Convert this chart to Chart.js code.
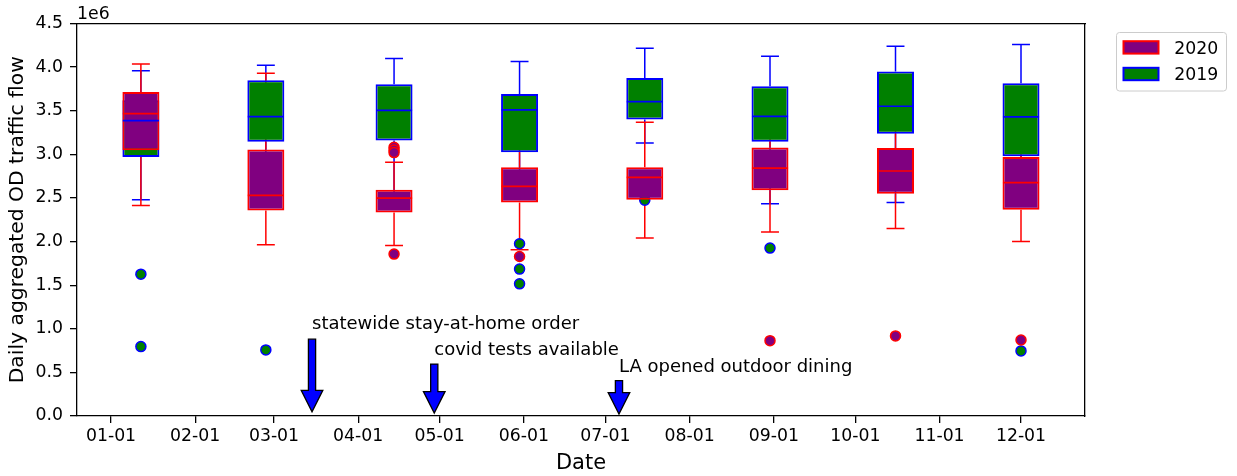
<!DOCTYPE html>
<html>
<head>
<meta charset="utf-8">
<script src="https://cdn.jsdelivr.net/npm/chart.js@4.4.1/dist/chart.umd.min.js"></script>
<style>
html,body{margin:0;padding:0;background:#ffffff;}
canvas{display:block;}
</style>
</head>
<body>
<canvas id="c" width="1237" height="476"></canvas>
<script>
// ---------------- data ----------------
const MONTH_TICK_DAYS   = [0, 31, 60, 91, 121, 152, 182, 213, 244, 274, 305, 335];
const MONTH_TICK_LABELS = ['01-01','02-01','03-01','04-01','05-01','06-01','07-01','08-01','09-01','10-01','11-01','12-01'];
const Y_TICKS = [0, 0.5, 1.0, 1.5, 2.0, 2.5, 3.0, 3.5, 4.0, 4.5];
const Y_OFFSET_TEXT = '1e6';
const SERIES_NAMES = ['2020', '2019'];
const X_TITLE = 'Date';
const Y_TITLE = 'Daily aggregated OD traffic flow';

// box positions (days since 01-01)
const BOX_POSITIONS = [11, 57, 104.2, 150.4, 196.5, 242.6, 288.8, 335];

// 2019 (values in 1e6)
const LO_2019  = [2.480, 2.600, 2.500, 2.550, 3.130, 2.434, 2.449, 2.600];
const Q1_2019  = [2.970, 3.145, 3.160, 3.023, 3.398, 3.145, 3.237, 2.977];
const MED_2019 = [3.387, 3.432, 3.505, 3.509, 3.605, 3.436, 3.551, 3.429];
const Q3_2019  = [3.620, 3.850, 3.804, 3.693, 3.876, 3.780, 3.949, 3.815];
const HI_2019  = [3.957, 4.022, 4.098, 4.064, 4.217, 4.125, 4.240, 4.259];
const FLIERS_2019 = [[1.626, 0.796], [0.758], [], [1.975, 1.684, 1.515], [2.475], [1.925], [], [0.746]];

// 2020 (values in 1e6)
const LO_2020  = [2.414, 1.963, 1.955, 1.906, 2.040, 2.109, 2.150, 2.001];
const Q1_2020  = [3.046, 2.357, 2.334, 2.449, 2.480, 2.587, 2.549, 2.365];
const MED_2020 = [3.467, 2.529, 2.499, 2.633, 2.736, 2.843, 2.809, 2.675];
const Q3_2020  = [3.716, 3.054, 2.594, 2.851, 2.851, 3.077, 3.073, 2.970];
const HI_2020  = [4.037, 3.930, 2.908, 3.250, 3.368, 3.350, 3.450, 3.200];
const FLIERS_2020 = [[], [], [3.080, 3.050, 3.020, 1.856], [1.829], [], [0.864], [0.918], [0.872]];

// events
const EVENT_LABELS = ['statewide stay-at-home order', 'covid tests available', 'LA opened outdoor dining'];
const EVENT_DAYS   = [74, 119, 187];
const EVENT_TEXT_Y = [1.0, 0.7, 0.5];

// ---------------- style ----------------
const FONT = "'DejaVu Sans', 'Liberation Sans', sans-serif";
const C = {purple:'#800080', green:'#008000', red:'#ff0000', blue:'#0000ff'};
const BOX_HALF_DAYS = 6.65;
const CAP_HALF_DAYS = 3.3;

// ---------------- builders ----------------
function boxBars(q1, q3) {
  return BOX_POSITIONS.map((x, i) => ({x: x, y: [q1[i], q3[i]]}));
}
function whiskerPts(lo, q1, q3, hi) {
  const out = [];
  BOX_POSITIONS.forEach((x, i) => {
    out.push({x: x, y: q1[i]}, {x: x, y: lo[i]}, {x: x, y: null});
    out.push({x: x, y: q3[i]}, {x: x, y: hi[i]}, {x: x, y: null});
  });
  return out;
}
function capPts(lo, hi) {
  const out = [];
  BOX_POSITIONS.forEach((x, i) => {
    out.push({x: x - CAP_HALF_DAYS, y: lo[i]}, {x: x + CAP_HALF_DAYS, y: lo[i]}, {x: x, y: null});
    out.push({x: x - CAP_HALF_DAYS, y: hi[i]}, {x: x + CAP_HALF_DAYS, y: hi[i]}, {x: x, y: null});
  });
  return out;
}
function medianPts(med) {
  const out = [];
  BOX_POSITIONS.forEach((x, i) => {
    out.push({x: x - BOX_HALF_DAYS, y: med[i]}, {x: x + BOX_HALF_DAYS, y: med[i]}, {x: x, y: null});
  });
  return out;
}
function flierPts(fl) {
  const out = [];
  BOX_POSITIONS.forEach((x, i) => fl[i].forEach(v => out.push({x: x, y: v})));
  return out;
}
function lineDS(data, color, width, order) {
  return {type: 'scatter', data: data, showLine: true, spanGaps: false, borderColor: color,
          borderWidth: width, pointRadius: 0, pointHoverRadius: 0, fill: false, order: order};
}
function barDS(data, fill, edge, order) {
  return {type: 'bar', data: data, backgroundColor: fill, borderColor: edge, borderWidth: 2,
          borderSkipped: false, barThickness: 37, grouped: false, inflateAmount: 0, order: order};
}
function flierDS(data, fill, edge, order) {
  return {type: 'scatter', data: data, showLine: false, backgroundColor: fill, borderColor: edge,
          borderWidth: 1.5, pointRadius: 5, pointHoverRadius: 5, order: order};
}

const datasets = [
  lineDS(medianPts(MED_2019), C.blue, 1.7, 0),
  lineDS(medianPts(MED_2020), C.red, 1.7, 0),
  flierDS(flierPts(FLIERS_2020), C.purple, C.red, 1),
  barDS(boxBars(Q1_2020, Q3_2020), C.purple, C.red, 2),
  flierDS(flierPts(FLIERS_2019), C.green, C.blue, 3),
  barDS(boxBars(Q1_2019, Q3_2019), C.green, C.blue, 4),
  lineDS(whiskerPts(LO_2020, Q1_2020, Q3_2020, HI_2020), C.red, 1.5, 5),
  lineDS(capPts(LO_2020, HI_2020), C.red, 1.5, 5),
  lineDS(whiskerPts(LO_2019, Q1_2019, Q3_2019, HI_2019), C.blue, 1.5, 6),
  lineDS(capPts(LO_2019, HI_2019), C.blue, 1.5, 6)
];

// ---------------- extras plugin (offset text, annotations, legend) ----------------
const extras = {
  id: 'extras',
  afterDatasetsDraw(chart) {
    const ctx = chart.ctx;
    const xs = chart.scales.x, ys = chart.scales.y;
    const area = chart.chartArea;
    ctx.save();
    // offset text
    ctx.fillStyle = '#000';
    ctx.font = '17.3px ' + FONT;
    ctx.textAlign = 'left';
    ctx.textBaseline = 'alphabetic';
    ctx.fillText(Y_OFFSET_TEXT, area.left, 18.5);

    // annotations
    const fs = 18;
    ctx.font = fs + 'px ' + FONT;
    const y0 = ys.getPixelForValue(0);
    EVENT_LABELS.forEach((lab, i) => {
      const x = xs.getPixelForValue(EVENT_DAYS[i]);
      const by = ys.getPixelForValue(EVENT_TEXT_Y[i]);
      ctx.fillStyle = '#000';
      ctx.fillText(lab, x, by);
      const bboxBottom = by + 0.236 * fs;
      const L = y0 - bboxBottom;
      const top = bboxBottom + 0.05 * L + 2;
      const tip = y0 - 0.05 * L;
      const sw = 3.6, hw = 10.8, hl = 21.5;
      ctx.beginPath();
      ctx.moveTo(x - sw, top);
      ctx.lineTo(x + sw, top);
      ctx.lineTo(x + sw, tip - hl);
      ctx.lineTo(x + hw, tip - hl);
      ctx.lineTo(x, tip);
      ctx.lineTo(x - hw, tip - hl);
      ctx.lineTo(x - sw, tip - hl);
      ctx.closePath();
      ctx.fillStyle = C.blue;
      ctx.fill();
      ctx.lineWidth = 1.3;
      ctx.strokeStyle = '#000';
      ctx.lineJoin = 'miter';
      ctx.stroke();
    });

    // legend
    const lx = 1116.5, ly = 32.5, lw = 110, lh = 58.5, r = 3;
    ctx.beginPath();
    ctx.moveTo(lx + r, ly);
    ctx.lineTo(lx + lw - r, ly);
    ctx.arcTo(lx + lw, ly, lx + lw, ly + r, r);
    ctx.lineTo(lx + lw, ly + lh - r);
    ctx.arcTo(lx + lw, ly + lh, lx + lw - r, ly + lh, r);
    ctx.lineTo(lx + r, ly + lh);
    ctx.arcTo(lx, ly + lh, lx, ly + lh - r, r);
    ctx.lineTo(lx, ly + r);
    ctx.arcTo(lx, ly, lx + r, ly, r);
    ctx.closePath();
    ctx.fillStyle = 'rgba(255,255,255,0.8)';
    ctx.fill();
    ctx.lineWidth = 1;
    ctx.strokeStyle = '#cccccc';
    ctx.stroke();
    const entries = [
      {name: SERIES_NAMES[0], fill: C.purple, edge: C.red, cy: 47.4},
      {name: SERIES_NAMES[1], fill: C.green, edge: C.blue, cy: 74.0}
    ];
    ctx.font = '17.3px ' + FONT;
    entries.forEach(e => {
      ctx.fillStyle = e.fill;
      ctx.fillRect(1123.5, e.cy - 6.2, 35, 12.4);
      ctx.lineWidth = 2;
      ctx.strokeStyle = e.edge;
      ctx.strokeRect(1123.5, e.cy - 6.2, 35, 12.4);
      ctx.fillStyle = '#000';
      ctx.textBaseline = 'alphabetic';
      ctx.fillText(e.name, 1174.3, e.cy + 6.4);
    });
    ctx.restore();
  }
};

const tickFont = {family: FONT, size: 17.3};

new Chart(document.getElementById('c'), {
  type: 'scatter',
  data: {datasets: datasets},
  options: {
    responsive: false,
    animation: false,
    devicePixelRatio: 1,
    events: [],
    layout: {padding: {top: 23.5, right: 152, left: 0, bottom: 0}},
    plugins: {legend: {display: false}, tooltip: {enabled: false}},
    scales: {
      x: {
        type: 'linear', position: 'bottom', min: -12.52, max: 358.56, offset: false,
        afterBuildTicks: s => { s.ticks = MONTH_TICK_DAYS.map(v => ({value: v})); },
        afterFit: s => { s.height = 60; },
        ticks: {
          autoSkip: false, maxRotation: 0, minRotation: 0, padding: 3, color: '#000', font: tickFont,
          callback: v => MONTH_TICK_LABELS[MONTH_TICK_DAYS.indexOf(v)]
        },
        grid: {display: true, drawOnChartArea: false, drawTicks: true, tickLength: 7, color: '#000', lineWidth: 1.3, offset: false},
        border: {display: true, color: '#000', width: 1.3},
        title: {display: true, text: X_TITLE, color: '#000', font: {family: FONT, size: 21}, padding: {top: 0, bottom: -0.5}}
      },
      y: {
        type: 'linear', position: 'left', min: 0, max: 4.5,
        afterBuildTicks: s => { s.ticks = Y_TICKS.map(v => ({value: v})); },
        afterFit: s => { s.width = 77; },
        ticks: {padding: 7, color: '#000', font: tickFont, callback: v => Number(v).toFixed(1)},
        grid: {display: true, drawOnChartArea: false, drawTicks: true, tickLength: 7, color: '#000', lineWidth: 1.3},
        border: {display: true, color: '#000', width: 1.3},
        title: {display: true, text: Y_TITLE, color: '#000', font: {family: FONT, size: 20.3}, padding: {top: 6, bottom: 0}}
      },
      x2: {
        type: 'linear', position: 'top', display: true,
        ticks: {display: false}, grid: {display: false},
        border: {display: true, color: '#000', width: 1.3},
        afterFit: s => { s.height = 0; }
      },
      y2: {
        type: 'linear', position: 'right', display: true,
        ticks: {display: false}, grid: {display: false},
        border: {display: true, color: '#000', width: 1.3},
        afterFit: s => { s.width = 0; }
      }
    }
  },
  plugins: [extras]
});
</script>
</body>
</html>
